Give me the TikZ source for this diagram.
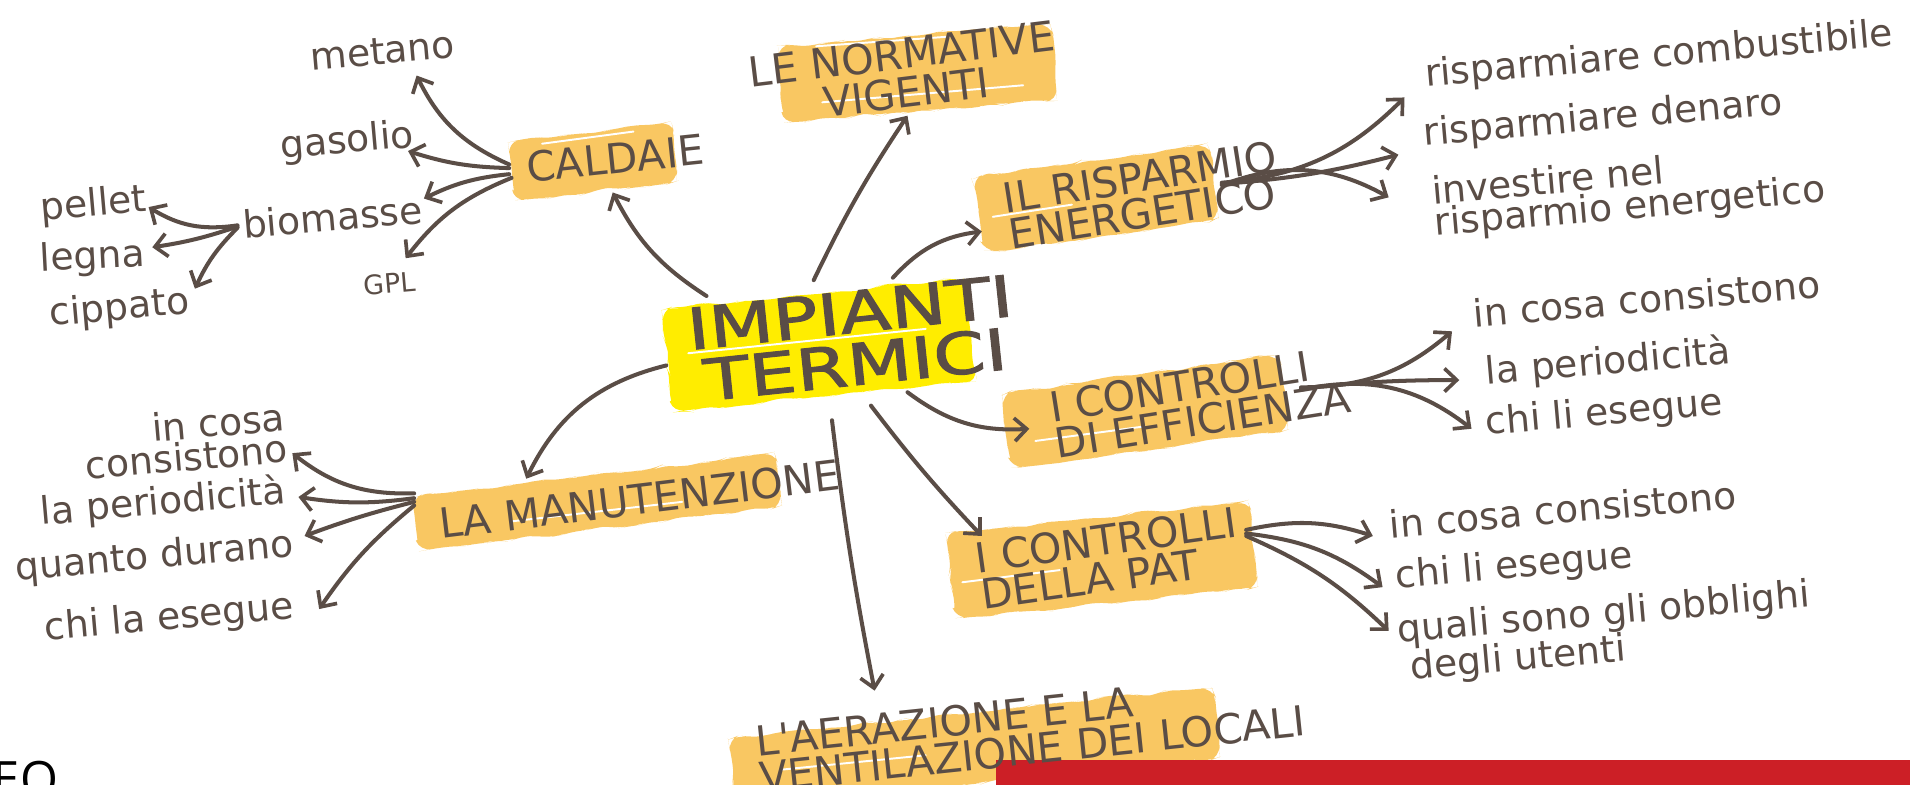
\documentclass[tikz,border=0pt]{standalone}
\usepackage{fontspec}
\usepackage{graphicx}
\usetikzlibrary{arrows.meta,decorations.pathmorphing}
\newfontfamily\hand{DejaVu Sans}
\newfontfamily\handbold[FakeBold=1.6]{DejaVu Sans}
\newfontfamily\eofont{Open Sans}
\definecolor{ink}{HTML}{5A4D46}
\definecolor{hl}{HTML}{F9C762}
\definecolor{hly}{HTML}{FFED00}
\definecolor{redbar}{HTML}{CC1F26}
\tikzset{
  itm/.style={text=ink, font=\hand\fontsize{31}{26}\selectfont, inner sep=2pt, rotate=5},
  lbl/.style={text=ink, font=\hand\fontsize{34}{30}\selectfont, inner sep=2pt},
  link/.style={draw=ink, line width=3.3pt, line cap=round,
    -{Straight Barb[length=10pt,width=19pt,line width=3pt]}},
  streak/.style={draw=white, line width=1.6pt, line cap=round},
}
\newcommand\hlight[6]{%
  \fill[#6, rounded corners=9pt, decorate,
    decoration={random steps,segment length=9pt,amplitude=1.8pt},
    rotate around={#1:(#2,#3)}]
    (#2-#4/2,#3-#5/2) rectangle (#2+#4/2,#3+#5/2);}
\begin{document}
\begin{tikzpicture}[x=1pt,y=1pt]
\pgfmathsetseed{7}
\useasboundingbox (0,0) rectangle (1568,-644);
% highlights
\hlight{7}{487}{-133}{135}{48}{hl}
\hlight{6}{672}{-283}{250}{84}{hly}
\hlight{5}{753}{-60}{225}{62}{hl}
\hlight{8}{900}{-163}{195}{62}{hl}
\hlight{8}{940}{-338}{230}{62}{hl}
\hlight{6}{905}{-460}{250}{70}{hl}
\hlight{6}{800}{-614}{400}{58}{hl}
\hlight{7}{490}{-412}{300}{44}{hl}
% brush streaks
\draw[streak] (445,-118) -- (520,-108);
\draw[streak] (565,-290) -- (760,-270);
\draw[streak] (670,-38) -- (780,-30);
\draw[streak] (675,-84) -- (840,-70);
\draw[streak] (815,-178) -- (880,-168);
\draw[streak] (850,-362) -- (940,-350);
\draw[streak] (790,-478) -- (870,-468);
\draw[streak] (420,-428) -- (560,-412);
\draw[streak] (640,-632) -- (760,-620);
% bottom
\fill[redbar] (818,-624) rectangle (1568,-650);
\node[anchor=base west, font=\eofont\fontsize{40}{40}\selectfont, inner sep=0pt] (eo) at (-6,-654) {EO};
% central
\node[lbl, font=\handbold\fontsize{47}{43}\selectfont, align=center, rotate=6] (ctr) at (700,-278)
  {\scalebox{1.3}[1]{IMPIANTI}\\\scalebox{1.3}[1]{TERMICI}};
% main labels
\node[lbl, rotate=6] (cal) at (505,-130) {CALDAIE};
\node[lbl, rotate=7, align=center, font=\hand\fontsize{34}{32}\selectfont] (nor) at (742,-60) {LE NORMATIVE\\VIGENTI};
\node[lbl, rotate=9, align=left] (ris) at (938,-160) {IL RISPARMIO\\ENERGETICO};
\node[lbl, rotate=9, align=left] (eff) at (985,-330) {I CONTROLLI\\DI EFFICIENZA};
\node[lbl, rotate=8, align=left] (pat) at (910,-458) {I CONTROLLI\\DELLA PAT};
\node[lbl, rotate=6, align=left] (aer) at (846,-600) {L'AERAZIONE E LA\\VENTILAZIONE DEI LOCALI};
\node[lbl, rotate=7] (man) at (525,-410) {LA MANUTENZIONE};
% caldaie items
\node[itm] (met) at (314,-42) {metano};
\node[itm] (gas) at (285,-117) {gasolio};
\node[itm] (bio) at (273,-178) {biomasse};
\node[itm, font=\hand\fontsize{22}{22}\selectfont] (gpl) at (320,-233) {GPL};
\node[itm] (pel) at (77,-169) {pellet};
\node[itm, rotate=-2] (leg) at (76,-212) {legna};
\node[itm] (cip) at (98,-254) {cippato};
% risparmio items
\node[itm] (r1) at (1362,-46) {risparmiare combustibile};
\node[itm] (r2) at (1316,-98) {risparmiare denaro};
\node[itm, align=left] (r3) at (1337,-158) {investire nel\\risparmio energetico};
% efficienza items
\node[itm] (e1) at (1352,-245) {in cosa consistono};
\node[itm] (e2) at (1320,-298) {la periodicità};
\node[itm] (e3) at (1317,-340) {chi li esegue};
% pat items
\node[itm] (p1) at (1283,-418) {in cosa consistono};
\node[itm] (p2) at (1243,-466) {chi li esegue};
\node[itm, align=left] (p3) at (1318,-520) {quali sono gli obblighi\\\hspace*{8pt}degli utenti};
% manutenzione items
\node[itm, align=right] (m1) at (152,-362) {in cosa\\consistono};
\node[itm] (m2) at (134,-413) {la periodicità};
\node[itm] (m3) at (127,-458) {quanto durano};
\node[itm] (m4) at (139,-508) {chi la esegue};
% connectors from centre
\draw[link] ([shift={(-120,35)}]ctr.center) to[bend left=15] ([shift={(-2,-28)}]cal.center);
\draw[link] ([shift={(-32,48)}]ctr.center) to[bend left=4] ([shift={(3,-35)}]nor.center);
\draw[link] ([shift={(33,50)}]ctr.center) to[bend left=20] ([shift={(-132,-30)}]ris.center);
\draw[link] ([shift={(45,-44)}]ctr.center) to[bend right=20] ([shift={(-140,-22)}]eff.center);
\draw[link] ([shift={(15,-55)}]ctr.center) to[bend right=3] ([shift={(-104,18)}]pat.center);
\draw[link] ([shift={(-17,-67)}]ctr.center) to[bend right=2] ([shift={(-128,33)}]aer.center);
\draw[link] ([shift={(-153,-22)}]ctr.center) to[bend right=25] ([shift={(-93,17)}]man.center);
% caldaie
\draw[link] ([shift={(-87,-5)}]cal.center) to[bend left=20] ([shift={(28,-20)}]met.center);
\draw[link] ([shift={(-87,-8)}]cal.center) to[bend left=8] ([shift={(50,-7)}]gas.center);
\draw[link] ([shift={(-87,-13)}]cal.center) to[bend right=10] ([shift={(75,15)}]bio.center);
\draw[link] ([shift={(-85,-16)}]cal.center) to[bend right=15] ([shift={(13,21)}]gpl.center);
\draw[link] ([shift={(-78,-7)}]bio.center) to[bend left=20] ([shift={(45,-1)}]pel.center);
\draw[link] ([shift={(-78,-8)}]bio.center) to[bend left=5] ([shift={(49,9)}]leg.center);
\draw[link] ([shift={(-78,-9)}]bio.center) to[bend right=10] ([shift={(62,17)}]cip.center);
% risparmio
\draw[link] ([shift={(65,10)}]ris.center) to[bend right=20] ([shift={(-209,-34)}]r1.center);
\draw[link] ([shift={(65,9)}]ris.center) to[bend right=5] ([shift={(-168,-29)}]r2.center);
\draw[link] ([shift={(65,8)}]ris.center) to[bend left=25] ([shift={(-197,-4)}]r3.center);
% efficienza
\draw[link] ([shift={(83,12)}]eff.center) to[bend right=20] ([shift={(-160,-27)}]e1.center);
\draw[link] ([shift={(83,11)}]eff.center) to[bend left=3] ([shift={(-122,-14)}]e2.center);
\draw[link] ([shift={(83,10)}]eff.center) to[bend left=25] ([shift={(-109,-12)}]e3.center);
% pat
\draw[link] ([shift={(113,23)}]pat.center) to[bend left=15] ([shift={(-156,-22)}]p1.center);
\draw[link] ([shift={(113,20)}]pat.center) to[bend left=15] ([shift={(-108,-16)}]p2.center);
\draw[link] ([shift={(113,18)}]pat.center) to[bend left=10] ([shift={(-178,2)}]p3.center);
% manutenzione
\draw[link] ([shift={(-185,5)}]man.center) to[bend left=20] ([shift={(88,-10)}]m1.center);
\draw[link] ([shift={(-185,1)}]man.center) to[bend left=8] ([shift={(111,5)}]m2.center);
\draw[link] ([shift={(-185,-2)}]man.center) to[bend right=3] ([shift={(123,18)}]m3.center);
\draw[link] ([shift={(-185,-5)}]man.center) to[bend right=8] ([shift={(123,8)}]m4.center);
\end{tikzpicture}
\end{document}
